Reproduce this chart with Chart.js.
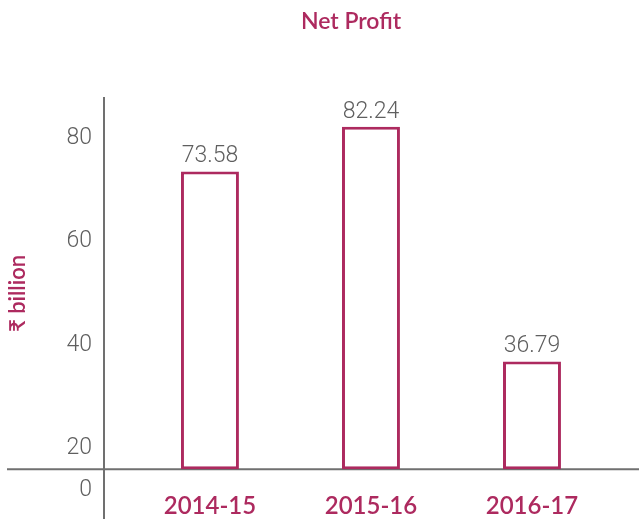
<!DOCTYPE html>
<html lang="en">
<head>
    <meta charset="UTF-8">
    <title>Net Profit</title>
    <script src="https://cdn.jsdelivr.net/npm/chart.js@4.4.1/dist/chart.umd.min.js"></script>
    <style>
        body {
            margin: 0;
            background-color: #ffffff;
        }
        .chart-box {
            width: 639px;
            height: 519px;
        }
    </style>
</head>
<body>
    <div class="chart-box">
        <canvas id="profitChart"></canvas>
    </div>

    <script>
        // values
        const years = ['2014-15', '2015-16', '2016-17'];
        const netProfit = [73.58, 82.24, 36.79];
        const yTickValues = [20, 40, 60, 80];

        const crimson = '#ad2a5f';
        const grey = '#5f5f5f';
        const axisGrey = '#707070';

        // the axis is cut: bars stand on a line just under 20, "0" sits below it
        const axisBase = 15.9;
        const axisMin = 11.9;
        const axisMax = 88;

        const axisLines = {
            id: 'axisLines',
            beforeDatasetsDraw(chart) {
                const { ctx, chartArea, scales } = chart;
                const baseY = scales.y.getPixelForValue(axisBase);
                ctx.save();
                ctx.strokeStyle = axisGrey;
                ctx.lineWidth = 2;
                ctx.beginPath();
                ctx.moveTo(7, baseY);
                ctx.lineTo(chart.width, baseY);
                ctx.moveTo(chartArea.left, chartArea.top);
                ctx.lineTo(chartArea.left, chart.height);
                ctx.stroke();
                ctx.restore();
            }
        };

        const valueLabels = {
            id: 'valueLabels',
            afterDatasetsDraw(chart) {
                const ctx = chart.ctx;
                const meta = chart.getDatasetMeta(0);
                ctx.save();
                ctx.fillStyle = grey;
                ctx.font = '300 23px Roboto';
                ctx.textAlign = 'center';
                ctx.textBaseline = 'alphabetic';
                meta.data.forEach(function(bar, i) {
                    ctx.fillText(netProfit[i].toFixed(2), bar.x, bar.y - 9);
                });
                ctx.restore();
            }
        };

        const ctx = document.getElementById('profitChart').getContext('2d');

        new Chart(ctx, {
            type: 'bar',
            data: {
                datasets: [{
                    label: 'Net Profit',
                    data: netProfit.map((v, i) => ({ x: i, y: v })),
                    base: axisBase,
                    backgroundColor: '#ffffff',
                    borderColor: crimson,
                    borderWidth: 3,
                    borderSkipped: false,
                    categoryPercentage: 1,
                    barPercentage: 0.36
                }]
            },
            options: {
                responsive: true,
                maintainAspectRatio: false,
                animation: false,
                layout: {
                    padding: { right: 41 }
                },
                plugins: {
                    legend: { display: false },
                    tooltip: { enabled: false },
                    title: {
                        display: true,
                        text: 'Net Profit',
                        color: crimson,
                        fullSize: false,
                        font: { family: 'Lato', size: 23, weight: '600', lineHeight: 1.2 },
                        padding: { top: 8, bottom: 61.4 }
                    }
                },
                scales: {
                    x: {
                        type: 'linear',
                        offset: false,
                        min: -0.658,
                        max: 2.41,
                        grid: { display: false, drawTicks: false },
                        border: { display: false },
                        afterFit(scale) {
                            scale.height = 29;
                        },
                        afterBuildTicks(scale) {
                            scale.ticks = years.map((_, i) => ({ value: i }));
                        },
                        ticks: {
                            autoSkip: false,
                            maxRotation: 0,
                            padding: 3,
                            color: crimson,
                            font: { family: 'Lato', size: 24, weight: '600', lineHeight: 1.1 },
                            callback: (value) => years[value]
                        }
                    },
                    y: {
                        min: axisMin,
                        max: axisMax,
                        grid: { display: false, drawTicks: false },
                        border: { display: false },
                        afterFit(scale) {
                            scale.width = 104;
                        },
                        afterBuildTicks(scale) {
                            scale.ticks = [{ value: axisMin }].concat(yTickValues.map(v => ({ value: v })));
                        },
                        ticks: {
                            padding: 12,
                            color: grey,
                            font: { family: 'Roboto', size: 23, weight: '300' },
                            callback: (value) => value === axisMin ? '0' : value
                        },
                        title: {
                            display: true,
                            text: '₹ billion',
                            color: crimson,
                            font: { family: 'Lato', size: 22, weight: '600', lineHeight: 1.2 },
                            padding: { top: 5, bottom: 0 }
                        }
                    }
                }
            },
            plugins: [axisLines, valueLabels]
        });
    </script>
</body>
</html>
